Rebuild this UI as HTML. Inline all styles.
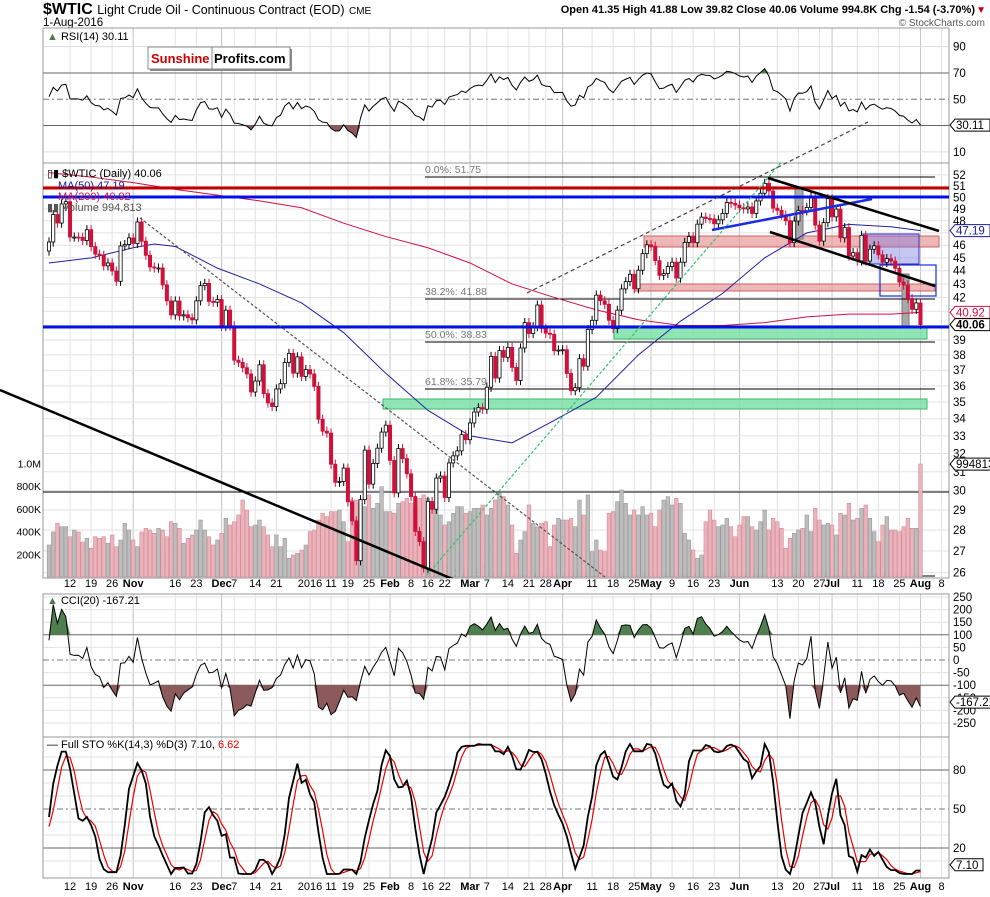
<!DOCTYPE html>
<html><head><meta charset="utf-8">
<style>
html,body{margin:0;padding:0;background:#fff;}
svg{display:block;font-family:"Liberation Sans",Arial,sans-serif;}
</style></head>
<body>
<svg id="chart" width="990" height="897" viewBox="0 0 990 897" xmlns="http://www.w3.org/2000/svg">
<defs>
<clipPath id="clipMain"><rect x="43" y="163" width="906" height="415"/></clipPath>
<clipPath id="clipRsi"><rect x="43" y="28" width="906" height="135"/></clipPath>
<clipPath id="clipCci"><rect x="43" y="594" width="906" height="143"/></clipPath>
<clipPath id="clipSto"><rect x="43" y="737" width="906" height="141"/></clipPath>
<clipPath id="clipTrend"><rect x="0" y="163" width="949" height="415"/></clipPath>
</defs>
<rect x="0" y="0" width="990" height="897" fill="#fff"/>
<!-- header -->
<text x="43" y="14" font-size="16" font-weight="bold">$WTIC <tspan font-size="12.5" font-weight="normal">Light Crude Oil - Continuous Contract (EOD)</tspan> <tspan font-size="10" font-weight="normal">CME</tspan></text>
<text x="43" y="26" font-size="11.5">1-Aug-2016</text>
<text x="975" y="13" font-size="11" font-weight="bold" text-anchor="end">Open 41.35  High 41.88  Low 39.82  Close 40.06  Volume 994.8K  Chg -1.54 (-3.70%)</text>
<text x="986" y="13" font-size="10" fill="#c00" text-anchor="end">▼</text>
<text x="985" y="26" font-size="10" fill="#555" text-anchor="end">© StockCharts.com</text>

<g id="grid"></g>
<g id="panels">
<rect x="43" y="28" width="906" height="135" fill="none" stroke="#999"/>
<rect x="43" y="163" width="906" height="415" fill="none" stroke="#999"/>
<rect x="43" y="594" width="906" height="143" fill="none" stroke="#999"/>
<rect x="43" y="737" width="906" height="141" fill="none" stroke="#999"/>
</g>

<!-- main annotations (behind) -->
<g clip-path="url(#clipMain)">
<rect x="644" y="236" width="295" height="11" fill="#e89a9a" fill-opacity="0.7" stroke="#d06060"/>
<rect x="635" y="284" width="300" height="7" fill="#e89a9a" fill-opacity="0.7" stroke="#d06060"/>
<rect x="614" y="328" width="313" height="11" fill="#7de0a8" fill-opacity="0.85" stroke="#3cba70"/>
<rect x="383" y="399" width="544" height="10" fill="#7de0a8" fill-opacity="0.85" stroke="#3cba70"/>
<rect x="863" y="234" width="56" height="30" fill="#7070e0" fill-opacity="0.4" stroke="#3030c0"/>
<rect x="880" y="265" width="56" height="31" fill="none" stroke="#1030e0" stroke-width="1.2"/>
<rect x="795" y="188" width="8" height="51" fill="#a8a8a8" stroke="#777"/>
<rect x="902" y="274" width="7" height="53" fill="#a8a8a8" stroke="#777"/>
<line x1="425" y1="177" x2="935" y2="177" stroke="#000"/>
<line x1="425" y1="299" x2="935" y2="299" stroke="#000"/>
<line x1="425" y1="342" x2="935" y2="342" stroke="#000"/>
<line x1="425" y1="389" x2="935" y2="389" stroke="#000"/>
<line x1="425" y1="576" x2="935" y2="576" stroke="#000"/>
<line x1="43" y1="492" x2="949" y2="492" stroke="#000"/>
<text x="425" y="173" font-size="10.5" fill="#777">0.0%: 51.75</text>
<text x="425" y="295" font-size="10.5" fill="#777">38.2%: 41.88</text>
<text x="425" y="338" font-size="10.5" fill="#777">50.0%: 38.83</text>
<text x="425" y="385" font-size="10.5" fill="#777">61.8%: 35.79</text>
<text x="425" y="573" font-size="10.5" fill="#777">100.0%: 25.91</text>
</g>
<g id="volume" clip-path="url(#clipMain)"></g>
<g id="mas" clip-path="url(#clipMain)"></g>
<g id="candles" clip-path="url(#clipMain)"></g>

<!-- main annotations (front) -->
<g clip-path="url(#clipMain)">
<line x1="43" y1="188" x2="949" y2="188" stroke="#c00000" stroke-width="3"/>
<line x1="43" y1="197" x2="949" y2="197" stroke="#0010e8" stroke-width="3"/>
<line x1="43" y1="327" x2="949" y2="327" stroke="#0010e8" stroke-width="3"/>
<line x1="712" y1="230" x2="872" y2="199" stroke="#1a2ae8" stroke-width="2.5"/>
<line x1="768" y1="178" x2="939" y2="231" stroke="#000" stroke-width="2.5"/>
<line x1="770" y1="232" x2="935" y2="286" stroke="#000" stroke-width="2.5"/>
<line x1="140" y1="218" x2="605" y2="577" stroke="#555" stroke-width="1.2" stroke-dasharray="3,2"/>
<line x1="427" y1="575" x2="790" y2="152" stroke="#2ec46a" stroke-width="1.2" stroke-dasharray="3,2"/>
</g>
<line x1="0" y1="390" x2="455" y2="580" stroke="#000" stroke-width="2.5" clip-path="url(#clipTrend)"/>
<line x1="527" y1="293" x2="868" y2="122" stroke="#444" stroke-width="1.2" stroke-dasharray="4,3"/>

<!-- main legend -->
<text x="47" y="177" font-size="11">▯▮ $WTIC (Daily) 40.06</text>
<text x="58" y="189" font-size="11" fill="#1a1aa0">MA(50) 47.19</text>
<text x="58" y="200" font-size="11" fill="#d01040">MA(200) 40.92</text>
<text x="47" y="211" font-size="11" fill="#555">▮▮ Volume 994,813</text>

<g id="rsi"></g>
<text x="47" y="40" font-size="11"><tspan fill="#4a7a4a">▲</tspan> RSI(14) 30.11</text>
<g>
<rect x="150" y="49" width="142" height="22" fill="#888"/>
<rect x="148" y="47" width="64" height="22" fill="#fff" stroke="#888"/>
<rect x="212" y="47" width="78" height="22" fill="#fff" stroke="#888"/>
<text x="151" y="63" font-size="13" font-weight="bold" fill="#cc0000">Sunshine</text>
<text x="214" y="63" font-size="13" font-weight="bold" fill="#000">Profits.com</text>
</g>

<g id="cci"></g>
<text x="47" y="604" font-size="11"><tspan fill="#4a7a4a">▲</tspan> CCI(20) -167.21</text>
<g id="sto"></g>
<text x="47" y="748" font-size="11">— Full STO %K(14,3) %D(3) 7.10, <tspan fill="#e00">6.62</tspan></text>

<g id="axes"></g>
</svg>

<script>
// ---- data ----
const preCloses = [46.05,45.94,44.15,45.92,44.63,44.00,44.59,47.15,46.90,44.68,46.68,45.83,44.48,44.91,45.70,44.43,45.23,45.09,44.74,45.54];
const closes = [
46.26,48.53,47.81,49.43,49.63,46.66,46.66,46.64,46.38,47.26,45.89,45.29,45.20,44.38,44.60,43.98,43.20,45.94,46.06,46.59,
46.14,47.90,46.32,45.20,44.29,44.21,44.21,42.93,41.75,40.74,41.74,40.67,40.75,40.54,40.39,41.75,42.87,43.04,41.71,41.65,
41.85,39.94,41.08,39.97,37.65,37.51,37.16,36.76,35.62,36.31,37.35,35.52,34.95,34.73,35.81,36.14,37.50,38.10,36.81,37.87,36.60,37.04,
36.76,35.97,33.97,33.27,33.16,31.41,30.44,30.48,31.20,29.42,28.46,26.55,29.53,32.19,30.34,31.45,32.30,33.22,33.62,
31.62,29.88,32.28,31.72,30.89,29.69,27.94,27.45,26.21,29.44,29.04,30.66,30.77,29.64,31.48,31.87,32.15,33.07,32.78,33.75,
34.40,34.66,34.57,35.92,37.90,36.50,38.29,37.84,38.50,37.18,36.34,38.46,40.20,39.44,39.91,41.45,39.79,39.46,39.39,38.28,38.32,38.34,
36.79,35.70,35.89,37.75,37.26,39.72,40.36,42.17,41.76,41.50,40.36,39.78,41.08,42.63,43.18,43.73,42.64,44.04,45.33,46.03,45.92,
44.78,43.65,43.78,44.32,44.66,43.44,44.66,46.23,46.70,46.21,47.72,48.31,48.19,48.16,47.75,48.08,48.62,49.56,49.48,49.33,49.10,
49.01,49.17,48.62,49.69,50.36,51.23,50.56,49.07,48.88,48.49,48.01,46.21,47.98,48.88,48.85,49.13,50.11,47.64,46.33,47.85,49.88,48.33,
48.99,46.60,47.43,45.14,45.41,44.76,46.80,44.75,45.68,45.95,45.24,44.65,44.94,44.75,44.19,43.13,42.92,41.92,41.14,41.60,
40.06];
const volumesK = [
282,397,473,443,443,355,414,397,308,341,253,355,341,355,297,370,267,326,473,414,326,267,397,429,414,385,429,414,355,487,473,429,297,341,370,414,502,414,355,282,326,385,517,458,487,546,678,590,443,458,502,443,370,267,370,
267,341,165,194,209,238,282,400,414,502,561,532,576,576,590,487,311,678,678,649,620,723,605,649,796,576,576,561,649,664,693,649,620,693,723,693,620,590,546,458,487,561,620,620,561,576,605,605,634,546,605,678,737,708,634,
458,209,326,400,634,473,443,473,487,267,458,517,502,502,517,443,678,546,723,223,326,238,223,561,576,664,767,649,546,590,546,620,546,561,443,590,678,708,634,693,649,385,326,238,165,194,487,590,502,443,458,517,443,355,458,
532,532,443,414,487,590,414,517,487,429,253,341,385,414,429,546,400,605,502,458,473,458,370,561,546,649,502,517,605,634,517,400,311,458,532,414,414,400,443,517,429,429,995];
const ma50Days = [0,10,20,25,30,40,50,60,70,80,90,100,110,120,130,140,150,160,170,180,190,200,207];
const ma50Vals = [44.6,45.0,45.8,46.1,45.9,44.2,43.0,41.6,39.5,36.8,34.5,33.0,32.6,33.9,35.3,38.0,40.3,42.3,45.0,47.0,47.7,47.5,47.19];
const ma200Days = [0,10,20,30,40,50,60,70,80,90,100,110,120,130,140,150,160,170,180,190,200,207];
const ma200Vals = [52.2,51.8,51.3,50.7,50.2,49.7,49.1,47.8,46.7,45.8,44.6,43.0,42.0,41.1,40.4,40.0,40.0,40.2,40.6,40.8,40.8,40.92];
const tickDays   = [5,10,15,20,30,35,41,44,49,54,62,67,71,76,81,86,90,94,100,104,109,114,118,122,129,134,139,143,148,153,158,164,173,178,183,186,192,197,202,207,212];
const tickLabels = ["12","19","26","Nov","16","23","Dec","7","14","21","2016","11","19","25","Feb","8","16","22","Mar","7","14","21","28","Apr","11","18","25","May","9","16","23","Jun","13","20","27","Jul","11","18","25","Aug","8"];
const priceTicks = [26,27,28,29,30,31,32,33,34,35,36,37,38,39,42,43,44,45,46,48,49,50,51,52];
const rsiTicks = [10,30,50,70,90];
const cciTicks = [250,200,150,100,50,0,-50,-100,-150,-200,-250];
const stoTicks = [20,50,80];
const volTicks = [200,400,600,800,1000];
const volTickLabels = ["200K","400K","600K","800K","1.0M"];

// ---- scales ----
const NS = "http://www.w3.org/2000/svg";
function xOf(i){ return 49 + i*4.21; }
function yP(p){ return 186 + 574*(Math.log(51) - Math.log(p)); }
function yV(v){ return 577 - v*0.1135; }
function yR(v){ return 165 - 1.315*v; }
function yC(v){ return 660 - 0.252*v; }
function yS(v){ return 874 - 1.3*v; }
function el(tag, attrs, parent){ const e=document.createElementNS(NS,tag); for(const k in attrs) e.setAttribute(k,attrs[k]); parent.appendChild(e); return e; }

const G = id => document.getElementById(id);
const grid = G('grid'), axes = G('axes');

tickDays.forEach((d,k)=>{
  const isMonth = isNaN(+tickLabels[k]);
  [[28,163],[163,578],[594,737],[737,878]].forEach(([a,b])=>{
    const l = el('line',{x1:xOf(d),x2:xOf(d),y1:a,y2:b,stroke:isMonth?'#c4c4c4':'#e2e2e2'},grid);
    
    
  });
  [587,890].forEach(yy=>{
    const t = el('text',{x:xOf(d),y:yy,'font-size':11,'text-anchor':'middle','font-weight':isMonth?'bold':'normal'},axes);
    t.textContent = tickLabels[k];
    
    
  });
});
for(let p=26;p<=52;p++){
  const l = el('line',{x1:43,x2:949,y1:yP(p),y2:yP(p),stroke:'#e2e2e2'},grid);
  
  
}
priceTicks.forEach(p=>{
  const t = el('text',{x:953,y:yP(p)+4,'font-size':11.5},axes);
  t.textContent = p;
  
  
});
volTicks.forEach((v,k)=>{
  const t = el('text',{x:41,y:yV(v)+4,'font-size':10.5,'text-anchor':'end'},axes);
  t.textContent = volTickLabels[k];
  
  
});
rsiTicks.forEach(v=>{
  const l = el('line',{x1:43,x2:949,y1:yR(v),y2:yR(v),stroke:(v==30||v==70)?'#666':'#ddd'},grid);
  if(v==50){ l.setAttribute('stroke','#777'); l.setAttribute('stroke-dasharray','6,3,2,3'); }
  
  
  if(v!==30){
    const t = el('text',{x:953,y:yR(v)+4,'font-size':11.5},axes);
    t.textContent = v;
    
    
  }
});
cciTicks.forEach(v=>{
  const l = el('line',{x1:43,x2:949,y1:yC(v),y2:yC(v),stroke:(v==100||v==-100)?'#666':'#e2e2e2'},grid);
  if(v==0){ l.setAttribute('stroke','#777'); l.setAttribute('stroke-dasharray','6,3,2,3'); }
  
  
  const t = el('text',{x:953,y:yC(v)+4,'font-size':11.5},axes);
  t.textContent = v;
  
  
});
[10,20,30,40,50,60,70,80,90].forEach(v=>{
  const l = el('line',{x1:43,x2:949,y1:yS(v),y2:yS(v),stroke:stoTicks.includes(v)?'#666':'#e2e2e2'},grid);
  if(v==50){ l.setAttribute('stroke','#777'); l.setAttribute('stroke-dasharray','6,3,2,3'); }
  
  
});
stoTicks.forEach(v=>{
  const t = el('text',{x:953,y:yS(v)+4,'font-size':11.5},axes);
  t.textContent = v;
  
  
});

const volG = G('volume');
volumesK.forEach((v,i)=>{
  const down = i>0 && closes[i]<closes[i-1];
  const r = el('rect',{x:xOf(i)-1.8,y:yV(v),width:3.6,height:577-yV(v),fill:down?'#eab4bc':'#bdbdbd',stroke:down?'#d88a96':'#9a9a9a','stroke-width':0.6},volG);
  
  
});

const maG = G('mas');
const ma200 = el('polyline',{points:ma200Days.map((d,k)=>xOf(d)+','+yP(ma200Vals[k])).join(' '),fill:'none',stroke:'#d01040','stroke-width':1},maG);


const ma50 = el('polyline',{points:ma50Days.map((d,k)=>xOf(d)+','+yP(ma50Vals[k])).join(' '),fill:'none',stroke:'#2020a0','stroke-width':1},maG);



const cG = G('candles');
closes.forEach((c,i)=>{
  const o = i>0 ? closes[i-1] : preCloses[preCloses.length-1];
  const up = c>=o;
  const hi = Math.max(o,c)*1.008, lo = Math.min(o,c)*0.992;
  const col = up ? '#000' : '#d0103a';
  const w = el('line',{x1:xOf(i),x2:xOf(i),y1:yP(hi),y2:yP(lo),stroke:col,'stroke-width':1},cG);
  
  
  const top = yP(Math.max(o,c)), bot = yP(Math.min(o,c));
  const b = el('rect',{x:xOf(i)-1.6,y:top,width:3.2,height:Math.max(1,bot-top),fill:up?'#fff':'#d0103a',stroke:col,'stroke-width':0.8},cG);
  
  
});

const all = preCloses.concat(closes);
const off = preCloses.length;
const rsi = [];
let ag=0, al=0;
for(let k=1;k<=14;k++){ const d=all[k]-all[k-1]; if(d>0) ag+=d; else al-=d; }
ag/=14; al/=14;
for(let k=14;k<all.length;k++){
  if(k>14){ const d=all[k]-all[k-1]; ag=(ag*13+Math.max(d,0))/14; al=(al*13+Math.max(-d,0))/14; }
  if(k>=off) rsi[k-off] = al===0?100:100-100/(1+ag/al);
}
const cci = [];
for(let k=off;k<all.length;k++){
  const w = all.slice(k-19,k+1);
  const m = w.reduce((a,b)=>a+b,0)/20;
  const md = w.reduce((a,b)=>a+Math.abs(b-m),0)/20;
  cci[k-off] = md===0?0:(all[k]-m)/(0.015*md);
}
const fastK = [];
for(let k=13;k<all.length;k++){
  const w = all.slice(k-13,k+1);
  const mn=Math.min(...w), mx=Math.max(...w);
  fastK[k] = mx===mn?50:(all[k]-mn)/(mx-mn)*100;
}
const slowK=[], dLine=[];
for(let k=15;k<all.length;k++) slowK[k]=(fastK[k]+fastK[k-1]+fastK[k-2])/3;
for(let k=17;k<all.length;k++) dLine[k]=(slowK[k]+slowK[k-1]+slowK[k-2])/3;

function fillPoly(vals, yf, level, above){
  let pts = [xOf(0)+','+yf(level)];
  vals.forEach((v,i)=>{ const vv = above?Math.max(v,level):Math.min(v,level); pts.push(xOf(i)+','+yf(vv)); });
  pts.push(xOf(vals.length-1)+','+yf(level));
  return pts.join(' ');
}
const rG = G('rsi');
rG.setAttribute('clip-path','url(#clipRsi)');
const rf1 = el('polygon',{points:fillPoly(rsi,yR,70,true),fill:'#4f7f4f'},rG);


const rf2 = el('polygon',{points:fillPoly(rsi,yR,30,false),fill:'#8c5a5a'},rG);


const rl = el('polyline',{points:rsi.map((v,i)=>xOf(i)+','+yR(v)).join(' '),fill:'none',stroke:'#000','stroke-width':1},rG);



const ccG = G('cci');
ccG.setAttribute('clip-path','url(#clipCci)');
const cf1 = el('polygon',{points:fillPoly(cci,yC,100,true),fill:'#4f7f4f'},ccG);


const cf2 = el('polygon',{points:fillPoly(cci,yC,-100,false),fill:'#8c5a5a'},ccG);


const cl = el('polyline',{points:cci.map((v,i)=>xOf(i)+','+yC(v)).join(' '),fill:'none',stroke:'#000','stroke-width':1},ccG);



const sG = G('sto');
sG.setAttribute('clip-path','url(#clipSto)');
const dl = el('polyline',{points:closes.map((c,i)=>xOf(i)+','+yS(dLine[i+off])).join(' '),fill:'none',stroke:'#e00','stroke-width':1.2},sG);


const kl = el('polyline',{points:closes.map((c,i)=>xOf(i)+','+yS(slowK[i+off])).join(' '),fill:'none',stroke:'#000','stroke-width':1.8},sG);



function tag(y, txt, col, bold, name){
  const g = el('g',{},axes);
  
  
  el('polygon',{points:`950,${y} 955,${y-6} ${955+txt.length*7},${y-6} ${955+txt.length*7},${y+6} 955,${y+6}`,fill:'#fff',stroke:col},g);
  const t = el('text',{x:956,y:y+4,'font-size':11.5,fill:bold?'#000':col,'font-weight':bold?'bold':'normal'},g);
  t.textContent = txt;
}
tag(yP(47.19),'47.19','#1a1aa0',false,'ma50-value-tag');
tag(yP(40.92),'40.92','#d01040',false,'ma200-value-tag');
tag(yP(40.06),'40.06','#000',true,'close-value-tag');
tag(yV(994.8),'994813','#000',false,'volume-value-tag');
tag(yR(rsi[rsi.length-1]),'30.11','#000',false,'rsi-value-tag');
tag(yC(-167.21),'-167.21','#000',false,'cci-value-tag');
tag(yS(7.1),'7.10','#000',false,'sto-value-tag');
</script>
</body></html>
